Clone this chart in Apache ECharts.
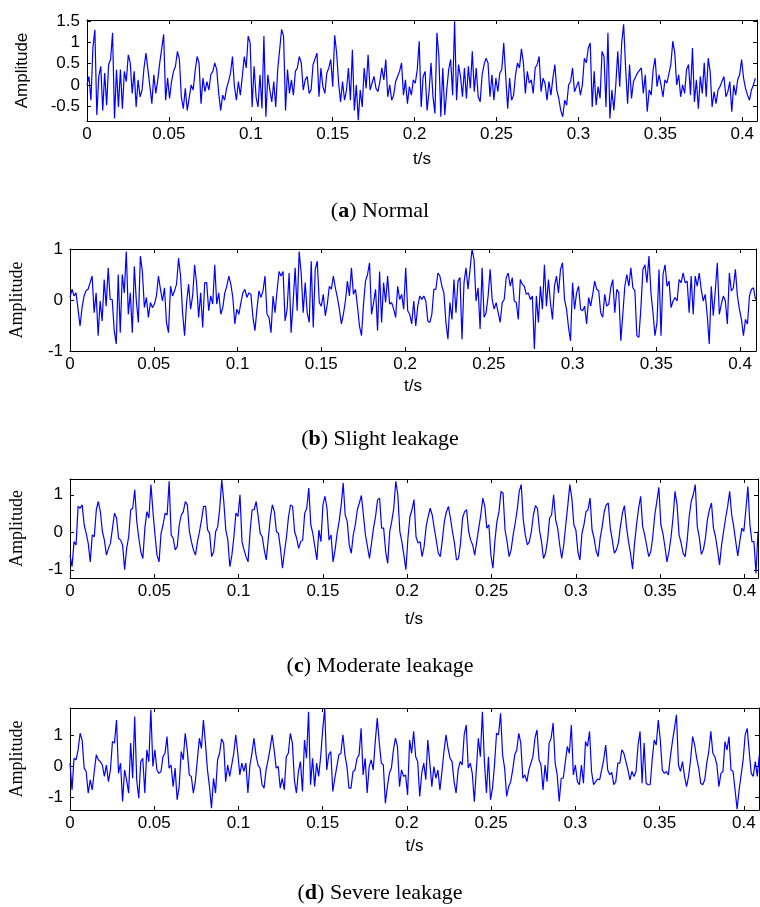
<!DOCTYPE html>
<html><head><meta charset="utf-8">
<script src="https://cdn.jsdelivr.net/npm/echarts@6/dist/echarts.min.js"></script>
<style>html,body{margin:0;padding:0;background:#fff}#c{width:760px;height:907px}</style>
</head><body><div id="c"></div>
<script>
// ---- data ----
const SAMPLE_INTERVAL = 0.0012; // s between samples
const xTicks = [0, 0.05, 0.1, 0.15, 0.2, 0.25, 0.3, 0.35, 0.4];
const yTicksNormal = [-0.5, 0, 0.5, 1, 1.5];
const yTicksOther = [-1, 0, 1];
const captionLetters = ['a', 'b', 'c', 'd'];
const captionTexts = ['Normal', 'Slight leakage', 'Moderate leakage', 'Severe leakage'];

const normal = [
0,0.2,-0.36,0.87,1.3,-0.71,0.2,0.44,-0.6,0.28,
-0.48,0.48,0.6,1.23,-0.79,0.36,-0.52,0.36,-0.56,0.32,
0.08,0.71,0.52,-0.2,0.32,-0.52,0.12,-0.28,-0.12,0.4,
0.75,0.36,-0.04,-0.44,0.24,-0.2,0.12,0.52,0.56,1.19,
-0.36,0.16,-0.32,0.08,0.32,0.44,0.79,0.6,-0.28,-0.56,
-0.08,-0.6,-0.63,0,-0.12,0.32,0.67,0.52,-0.44,0.16,
-0.16,0.08,-0.12,0.24,0.32,0.52,0.36,-0.2,-0.6,-0.24,
-0.36,-0.08,0.08,0.28,0.67,-0.04,-0.36,0.08,-0.24,0.2,
0.67,0.4,1.15,0.99,-0.52,0.44,-0.28,-0.52,0.24,-0.55,
1.15,-0.75,0.24,-0.12,-0.4,0.08,-0.52,0.36,0.83,1.31,
1.15,-0.6,0.36,-0.2,0.12,-0.24,0.32,0.4,0.67,0.52,
-0.12,0.12,0.2,-0.2,
-0.12,0.48,0.52,0.75,-0.28,0.4,-0.04,-0.2,0.28,0.4,
0.6,-0.04,1.17,0.75,0.04,-0.4,0.08,-0.36,-0.12,0.4,
-0.36,0.83,-0.6,0,-0.83,-0.12,-0.52,0.4,-0.08,0.71,
-0.12,-0.08,0.2,-0.08,-0.16,0.08,0.4,0.12,0.6,-0.28,
0,-0.36,-0.24,0.08,0.2,0.32,0.52,-0.24,0.12,-0.44,
-0.04,-0.24,0.12,0.04,0.36,1.03,-0.52,0.2,0.32,-0.6,
-0.16,0.52,-0.28,-0.67,1.23,0.67,-0.75,0.4,-0.71,-0.12,
0.36,0.6,-0.24,1.5,-0.36,0.48,0.2,-0.28,0.4,-0.32,
0.44,-0.08,0.79,-0.16,0.4,-0.28,-0.4,0.24,0.48,0.63,
0.52,-0.28,0.24,-0.36,0.16,-0.16,0.28,0.36,0.99,0.95,
-0.56,0.16,-0.36,-0.24,0.24,0.52,0.4,0.85,0.52,-0.2,
0.32,0.04,
0.12,-0.2,0.4,0.48,0.67,-0.16,0.16,0.04,-0.36,0.08,
-0.24,0.16,0.48,-0.12,-0.32,-0.6,-0.75,-0.36,-0.48,0,
0.08,0.4,-0.16,-0.04,0.08,-0.24,0,0.63,0.52,0.87,
0.99,-0.52,0.32,-0.48,-0.04,-0.32,0.79,0.67,-0.52,1.23,
-0.79,-0.12,-0.6,0,0.79,-0.04,0.99,1.43,0.4,-0.44,
0.48,-0.32,0.08,0.04,0.28,0.32,0.4,-0.2,0.24,-0.63,
-0.12,-0.24,0.36,0.63,-0.04,0.24,0,-0.28,0.12,0.04,
0,0.48,1.03,0.75,0,0.24,-0.28,0,-0.2,0.36,
0.48,-0.24,0.87,-0.4,0.12,-0.56,0.2,-0.2,0.52,-0.28,
0.63,0.32,-0.52,-0.16,-0.44,-0.12,-0.04,0.08,0.2,-0.28,
-0.16,0.08,-0.63,0,-0.24,0.12,0.24,0.6,0.16,-0.08,
-0.24,-0.36,-0.12,0,0.16
];

const slight = [
0.05,0.21,0.08,0.14,-0.18,-0.51,-0.15,0.08,0.18,0.21,
0.34,0.47,-0.25,0.14,-0.7,-0.02,-0.41,0.4,-0.12,0.63,
0.01,0.01,-0.6,-0.86,0.5,-0.64,0.5,0.14,0.95,-0.28,
0.14,-0.64,0.66,-0.02,-0.44,0.86,0.56,-0.15,0.05,-0.34,
-0.05,-0.15,-0.08,0.08,0.47,0.21,-0.02,0.24,-0.44,-0.64,
0.27,0.08,0.18,0.31,0.82,0.47,-0.25,-0.7,-0.05,0.31,
-0.18,0.08,0.69,0.31,-0.34,0.14,-0.54,0.34,0.34,-0.21,
0.08,-0.08,0.69,-0.08,0.14,-0.28,-0.15,0.14,0.27,0.47,
0.31,0.05,-0.47,-0.18,-0.28,-0.05,0.14,0.21,0.05,0.14,
0.11,-0.34,-0.6,-0.18,0.18,0.05,0.18,0.47,-0.28,-0.34,
-0.64,0.08,-0.25,0.18,0.56,0.47,0.56,-0.41,-0.18,0.53,
-0.64,-0.05,0.63,-0.21,0.95,
0.53,-0.25,0.34,-0.25,-0.44,0.76,-0.54,0.6,0.76,-0.05,
-0.12,0.11,-0.31,-0.08,0.27,0.21,0.47,0.24,0.05,-0.18,
-0.47,-0.28,-0.02,0.37,0.08,0.63,0.11,0.21,-0.12,-0.51,
-0.7,-0.08,0.37,0.5,0.73,-0.28,-0.05,0.21,-0.6,0.56,
-0.44,0.34,-0.05,0.47,-0.08,-0.05,-0.18,-0.34,0.27,0.01,
0.11,-0.18,0.63,-0.21,-0.28,-0.47,-0.02,-0.51,-0.12,0.08,
0.01,0.08,-0.02,-0.41,-0.44,-0.28,0.21,0.21,0.53,0.47,
0.27,0.14,-0.44,-0.77,-0.05,-0.38,0.4,-0.25,0.37,0.44,
-0.77,0.34,0.63,0.21,0.6,1.0,0.79,-0.02,0.24,-0.57,
0.63,-0.34,-0.25,0.08,0.6,0.01,-0.18,-0.05,-0.25,-0.44,
-0.05,0.01,0.44,0.53,0.27,0.44,-0.02,-0.05,-0.38,0.4,
0.31,0.27,0.11,0.14,
0.01,0.08,-0.96,0.08,-0.44,0.27,-0.18,0.69,-0.12,0.4,
-0.05,-0.38,0.27,0.47,0.14,0.6,0.73,0.01,-0.18,-0.54,
-0.8,0.34,-0.18,0.14,0.27,-0.18,-0.21,-0.12,-0.47,0.05,
-0.12,0.11,0.37,0.21,0.18,-0.25,-0.34,0.11,-0.12,-0.08,
0.24,0.4,-0.25,0.21,0.14,-0.8,-0.28,0.27,0.5,0.27,
0.63,0.24,0.18,-0.7,-0.73,-0.15,0.6,0.69,0.34,0.86,
0.14,-0.25,-0.7,-0.44,0.6,-0.7,0.5,0.69,0.27,0.37,
-0.15,-0.02,0.05,-0.02,0.4,0.34,0.53,0.34,0.37,-0.25,
0.47,-0.28,0.47,0.27,0.53,0.21,-0.02,0.11,-0.31,-0.86,
0.27,-0.31,0.18,0.73,-0.28,-0.08,0.08,-0.02,-0.47,0.53,
0.18,0.24,0.6,0.08,-0.18,-0.38,-0.7,-0.38,-0.47,0.08,
0.21,0.24,0.01
];

const moderate = [
-0.61,-0.92,-0.25,-0.34,0.69,0.64,0.73,0.2,-0.03,-0.29,
-0.79,-0.07,-0.12,0.6,0.82,0.55,0.02,-0.21,-0.61,-0.43,
-0.29,0.11,0.51,0.38,-0.16,-0.21,-0.34,-1.0,-0.43,-0.12,
0.6,0.64,1.13,0.29,-0.16,-0.52,-0.7,0.11,0.55,0.38,
1.27,0.55,-0.07,-0.61,-0.79,-0.03,0.2,0.51,0.46,1.36,
-0.07,-0.16,-0.47,-0.38,0.2,0.46,0.55,0.82,0.73,0.02,
-0.25,-0.47,-0.61,-0.25,0.02,0.33,0.69,0.69,0.06,-0.03,
-0.65,-0.52,0.02,0.15,0.64,1.4,0.82,0.06,-0.21,-0.92,
-0.61,-0.12,0.51,0.42,1.0,-0.25,-0.47,-0.65,-0.79,0.02,
0.6,0.6,0.82,0.42,-0.03,-0.12,-0.47,-0.74,-0.16,0.38,
0.73,0.55,0.02,-0.03,-0.43,-0.96,-0.52,-0.12,0.42,0.73,
0.69,0.02,-0.16,-0.43,
-0.25,-0.21,0.51,0.64,1.18,0.2,-0.03,-0.38,-0.74,0.06,
-0.25,0.73,0.96,0.64,-0.21,-0.07,-0.79,-0.47,-0.03,0.29,
0.71,1.31,0.46,0.29,-0.34,-0.56,-0.07,0.2,0.6,0.78,
0.98,0.46,-0.07,-0.38,-0.7,-0.29,0.11,0.42,0.87,0.91,
0.11,0.11,-0.52,-0.83,0.02,0.29,0.64,1.36,1.0,0.02,
-0.25,-0.61,-1.0,-0.16,0.42,0.6,0.87,-0.12,-0.29,-0.25,
-0.65,-0.38,0.15,0.42,0.64,0.46,0.11,-0.21,-0.56,-0.65,
-0.21,0.29,0.54,0.69,0.38,0.02,-0.29,-0.74,-0.7,-0.29,
0.38,0.55,0.6,0.02,-0.21,-0.34,-0.61,-0.25,0.11,0.46,
0.91,0.69,0.11,0.2,-0.61,-0.96,-0.21,0.29,0.55,1.09,
1.04,0.06,-0.25,-0.65,-0.47,-0.07,0.24,0.6,1.09,1.27,
0.33,-0.07,-0.34,-0.25,
0.02,0.46,0.71,0.64,0.06,-0.25,-0.7,-0.56,-0.21,0.38,
0.46,1.0,0.33,0.11,-0.34,-0.7,-0.34,0.2,0.71,1.27,
0.91,0.2,0.06,-0.52,-0.74,-0.03,0.2,0.55,0.6,0.91,
0.06,-0.16,-0.5,-0.65,-0.16,0.15,0.54,0.73,0.78,0.11,
-0.21,-0.56,-0.47,-0.29,0.15,0.51,0.71,0.15,-0.25,-0.56,
-0.98,-0.29,0.21,0.64,0.96,0.15,-0.07,-0.36,-0.65,-0.52,
-0.12,0.46,0.82,1.2,0.2,-0.03,-0.38,-0.79,-0.52,-0.14,
0.38,1.09,0.73,-0.07,-0.29,-0.56,-0.65,-0.21,0.42,0.82,
1.0,1.27,0.15,-0.14,-0.59,-0.47,-0.16,0.33,0.6,0.78,
0.11,-0.12,-0.47,-0.87,-0.34,0.02,0.38,0.69,1.09,0.46,
0.15,-0.25,-0.63,-0.25,0.11,0.02,0.6,1.22,0.2,-0.25,
-0.25,-1.1,0.02
];

const severe = [
0.11,-0.76,0.27,0.22,0.54,1.08,0.86,-0.05,-0.16,-0.86,
-0.43,-0.76,-0.16,0.38,0.22,0.16,0.05,-0.32,0.05,-0.49,
-0.11,0.81,0.76,1.51,-0.22,0.11,-1.13,-0.11,-0.43,-0.86,
0.76,-0.38,1.62,-0.43,-1.03,0.16,0.27,-0.86,0.54,0.16,
1.84,0,0.54,-0.11,-0.22,-0.16,0.32,0.43,0.97,-0.05,
0.05,-0.65,-0.05,-1.08,-0.65,0.49,0.22,1.08,0.54,-0.27,
-0.32,-0.86,-0.49,0.22,0.92,0.59,1.51,0.76,-0.11,-0.65,
-1.35,-0.38,-0.86,0.22,0.43,0.9,0.76,-0.49,0.05,-0.32,
0.05,0.43,1.03,0.43,-0.27,0.11,-0.16,0.11,-0.86,0.05,
0.43,0.92,0.38,0.05,-0.05,-0.59,-0.7,-0.11,0.22,0.59,
1.03,0.54,-0.05,0,-0.7,-0.38,-0.76,0.32,0.43,1.08,
0.76,-0.43,-0.86,-0.16,
0.16,-0.81,0.86,0.27,1.78,-0.59,0.27,-0.65,0.11,-0.32,
0.32,1.19,1.88,-0.11,0.38,0.49,-0.81,-0.38,0,0.38,
0.43,1.03,0.38,0,-0.7,-0.7,-0.16,-0.11,0.27,0.38,
1.24,-0.27,0.27,-0.86,0,0.22,-0.11,0.81,1.57,0.76,
0.11,0.05,-1.19,-0.65,-0.22,-0.05,0.54,0.92,0.65,-0.65,
-0.11,-0.32,-0.27,-0.92,0.86,0.43,1.14,0.32,0.16,-0.97,
-0.22,0.11,-0.43,0.86,0.11,-0.65,0,-0.38,-0.11,-0.76,
-0.16,0.49,1.03,0.59,0.27,0.16,-0.49,-0.86,-0.11,0.16,
0.05,1.03,1.35,-0.05,0.11,-0.22,-1.14,-0.11,0.92,0.32,
1.78,0.16,-0.86,0.32,-1.08,-0.7,0.05,1.08,1.03,1.73,
0.38,-0.05,-0.97,-0.65,-0.49,-0.11,0.38,0.54,1.08,0.76,
-0.38,-0.27,-0.49,-0.11,
0.11,0.32,0.92,1.19,0.22,0.05,-0.76,0.05,-0.49,0.76,
0.92,1.41,0.11,-0.27,-1.13,-0.38,-0.38,0.13,0.65,0.43,
1.35,-0.27,0.05,-0.49,-0.59,0.05,-0.54,0.81,0.65,1.14,
-0.16,-0.59,-0.49,-0.41,-0.43,-0.11,0.22,0.7,-0.11,-0.27,
-0.19,-0.59,-0.49,0.11,0.11,0.54,0.43,0.16,-0.11,-0.43,
-0.16,-0.32,-0.16,0.7,1.14,-0.54,0.76,-0.54,-0.59,-0.59,
0.22,0.86,0.7,1.51,0.86,-0.11,-0.22,-0.16,-0.27,0.32,
0.81,1.24,1.68,0.05,-0.16,0.16,-0.32,-0.65,-0.32,0.22,
0.97,0.7,0.27,-0.05,-0.54,-0.59,-0.43,0.11,0.49,1.14,
0.43,0.32,0.05,-0.65,-0.22,-0.16,0.81,0.54,0.97,-0.11,
-0.16,-0.76,-1.38,-0.76,-0.27,0.22,1.03,1.24,0.49,-0.22,
-0.32,0.16,-0.32,0.38
];

// axis ranges
const xMax = [0.409, 0.4095, 0.408, 0.409];
const yMin = [-0.85, -1, -1.22, -1.41];
const yMax = [1.53, 1, 1.42, 1.9];

// ---- layout ----
const seriesValues = [normal, slight, moderate, severe];
const yTickSets = [yTicksNormal, yTicksOther, yTicksOther, yTicksOther];
const grids = [
  {left: 87, top: 20, width: 670, height: 101},
  {left: 68, top: 249, width: 688, height: 102},
  {left: 68, top: 479, width: 690, height: 99},
  {left: 68, top: 708, width: 691, height: 102}
];
const yNameGap = [56, 44, 44, 44];
const xNameGap = [30, 27, 33, 28];
const captionTop = [195, 423, 650, 877];
const yNameFont = ['Liberation Sans', 'Liberation Serif', 'Liberation Serif', 'Liberation Serif'];
const yNameSize = [17, 18, 18, 18];

const black = '#000';
const sans = 'Liberation Sans, Arial, sans-serif';
const serif = 'Liberation Serif, Times New Roman, serif';

const xAxes = [], yAxes = [], series = [], titles = [];
grids.forEach((g, k) => {
  const common = {
    type: 'value', gridIndex: k, splitLine: {show: false},
    axisLine: {show: true, onZero: false, lineStyle: {color: black, width: 1}},
  };
  xAxes.push(Object.assign({}, common, {
    position: 'bottom', min: 0, max: xMax[k],
    axisTick: {show: true, inside: true, length: 4, lineStyle: {color: black}, customValues: xTicks},
    axisLabel: {show: true, customValues: xTicks, color: black, fontSize: 17, fontFamily: sans, margin: 5},
    name: 't/s', nameLocation: 'middle', nameGap: xNameGap[k],
    nameTextStyle: {color: black, fontSize: 17, fontFamily: sans}
  }));
  xAxes.push(Object.assign({}, common, {
    position: 'top', min: 0, max: xMax[k],
    axisTick: {show: true, inside: true, length: 4, lineStyle: {color: black}, customValues: xTicks},
    axisLabel: {show: false}
  }));
  yAxes.push(Object.assign({}, common, {
    position: 'left', min: yMin[k], max: yMax[k],
    axisTick: {show: true, inside: true, length: 4, lineStyle: {color: black}, customValues: yTickSets[k]},
    axisLabel: {show: true, customValues: yTickSets[k], color: black, fontSize: 17, fontFamily: sans, margin: 7},
    name: 'Amplitude', nameLocation: 'middle', nameGap: yNameGap[k], nameRotate: 90,
    nameTextStyle: {color: black, fontSize: yNameSize[k], fontFamily: yNameFont[k]}
  }));
  yAxes.push(Object.assign({}, common, {
    position: 'right', min: yMin[k], max: yMax[k],
    axisTick: {show: true, inside: true, length: 4, lineStyle: {color: black}, customValues: yTickSets[k]},
    axisLabel: {show: false}
  }));
  series.push({
    type: 'line', xAxisIndex: 2 * k, yAxisIndex: 2 * k,
    data: seriesValues[k].map((v, i) => [i * SAMPLE_INTERVAL, v]),
    showSymbol: false, symbol: 'none', clip: true,
    lineStyle: {color: '#0000ff', width: 1.2}, itemStyle: {color: '#0000ff'},
    animation: false
  });
  titles.push({
    text: '({b|' + captionLetters[k] + '}) ' + captionTexts[k],
    left: 'center', top: captionTop[k],
    textStyle: {
      fontFamily: serif, fontSize: 22, fontWeight: 'normal', color: black,
      rich: {b: {fontFamily: serif, fontSize: 22, fontWeight: 'bold', color: black}}
    }
  });
});

const chart = echarts.init(document.getElementById('c'), null, {renderer: 'canvas'});
chart.setOption({
  backgroundColor: '#fff',
  animation: false,
  title: titles,
  grid: grids,
  xAxis: xAxes,
  yAxis: yAxes,
  series: series
});
</script>
</body></html>
